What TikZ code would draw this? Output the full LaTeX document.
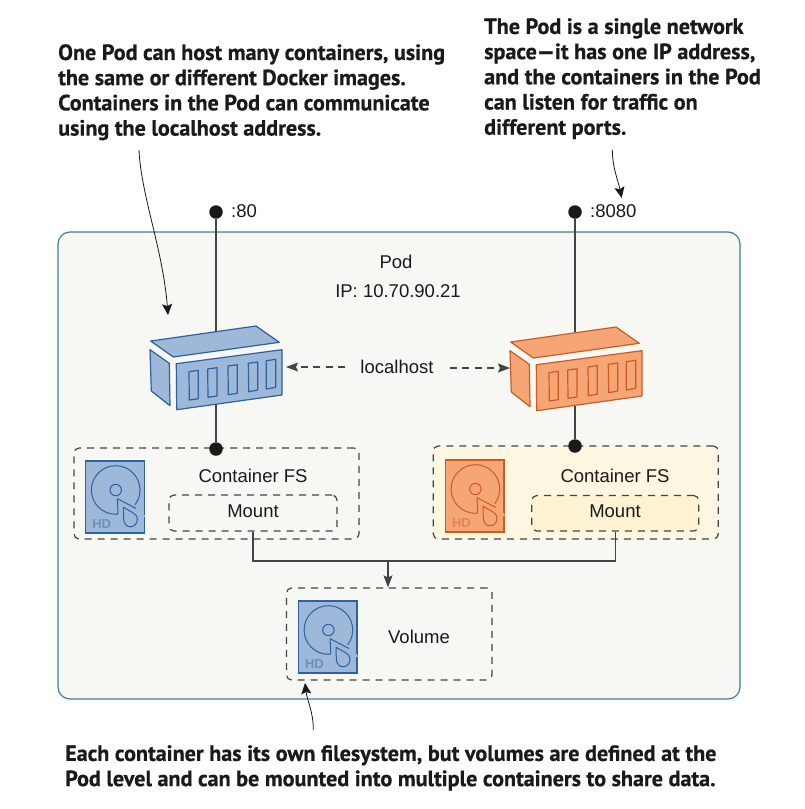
\documentclass[tikz,border=0pt]{standalone}
\usepackage{fontspec}
\setmainfont{Liberation Sans}
\newfontfamily\calloutfont[FakeStretch=1.0,FakeBold=0.6]{PT Sans Bold}
\usetikzlibrary{arrows.meta}
\definecolor{bluefill}{HTML}{9DB8D9}
\definecolor{bluedraw}{HTML}{2F609F}
\definecolor{bluehd}{HTML}{6C90BE}
\definecolor{orangefill}{HTML}{F6A574}
\definecolor{orangedraw}{HTML}{CF5B22}
\definecolor{orangehd}{HTML}{E28450}
\definecolor{podfill}{HTML}{F7F7F3}
\definecolor{podedge}{HTML}{3F7E9F}
\definecolor{fsyellow}{HTML}{FDF6E0}
\definecolor{mountyellow}{HTML}{FDF3D3}
\definecolor{linegrey}{HTML}{444444}
\definecolor{inkblack}{HTML}{1A1A1A}
\tikzset{
  x=1pt,y=-1pt,
  callout/.style={anchor=north west,inner sep=0pt,align=left,text=inkblack,font=\calloutfont\fontsize{22.1}{25.2}\selectfont},
  label/.style={inner sep=0pt,text=inkblack,font=\fontsize{18.5}{22}\selectfont},
  dashbox/.style={draw=linegrey,dash pattern=on 7pt off 6pt,line width=1.2pt,rounded corners=5pt,inner sep=0pt},
  port/.style={circle,fill=inkblack,inner sep=0pt,minimum size=13.5pt},
  wire/.style={draw=linegrey,line width=1.5pt},
  pointer/.style={draw=inkblack,line width=0.8pt,-{Stealth[length=11pt,width=10pt,inset=2pt]}},
  link/.style={draw=linegrey,line width=1.1pt,dash pattern=on 7pt off 5.5pt,-{Stealth[length=12pt,width=9pt,inset=2pt]}},
  pics/container/.style={code={
    \path[fill=#1fill,draw=#1draw,line width=1.2pt,line join=round]
      (0.7,15)--(106,0)--(129.3,16.3)--(23.3,31)--cycle
      (0,23.7)--(19.3,37.3)--(20,79.7)--(1.3,65)--cycle
      (26.3,37.7)--(132,23.7)--(132,69)--(26.7,83.7)--cycle;
    \path[draw=#1draw,line width=1.2pt,line join=round]
      (39,45.7)--(48.3,44.3)--(48.3,72.7)--(39.3,74)--cycle
      (57.7,43)--(67,41.7)--(67,70)--(58,71.3)--cycle
      (78,40)--(87.3,38.7)--(87.3,67.3)--(78.3,68.7)--cycle
      (98.3,37.3)--(107.7,36)--(107.7,64)--(98.7,65.7)--cycle
      (116.3,34.7)--(125.7,33.3)--(125.7,61.3)--(116.3,63)--cycle;
  }},
  pics/harddisk/.style={code={
    \path[fill=#1fill,draw=#1draw,line width=1.2pt] (0,0) rectangle (58.6,72);
    \path[draw=#1draw,line width=1pt] (30,29) circle[radius=24.3];
    \path[fill=#1fill] (31.7,37.7)--(32.3,56)--(60,56)--(53,45)--cycle;
    \path[draw=#1draw,line width=1pt,line join=round] (32.3,52.9)--(31.7,37.7)--(50.5,47.5);
    \path[draw=#1draw,line width=1pt] (30,29) circle[radius=5.7];
    \path[draw=#1draw,line width=1pt,line join=round]
      (37.7,46.3)--(37.9,58) .. controls (38,62.5) and (41,65.8) .. (44.5,65.8)
      .. controls (48.5,65.8) and (51.6,62.5) .. (51.6,58.5)
      .. controls (51.6,54.5) and (49,52.5) .. (46,51)--cycle;
    \node[inner sep=0pt,text=#1hd,font=\bfseries\fontsize{13}{13}\selectfont] at (16,63) {HD};
  }}
}
\begin{document}
\begin{tikzpicture}
\useasboundingbox[fill=white] (0,0) rectangle (804,809);
% pod
\node[draw=podedge,fill=podfill,line width=1.2pt,rounded corners=12pt,minimum width=682pt,minimum height=467pt,inner sep=0pt] (pod) at (399,465.5) {};
\node[label] (podname) at (396,262) {Pod};
\node[label] (podip) at (398,291) {IP: 10.70.90.21};
% filesystem boxes
\node[dashbox,minimum width=285pt,minimum height=91pt] (fsL) at (216.5,493.5) {};
\node[dashbox,fill=fsyellow,minimum width=285pt,minimum height=93pt] (fsR) at (575.8,492.5) {};
\node[dashbox,minimum width=168pt,minimum height=36pt] (mountL) at (253,513) {};
\node[dashbox,fill=mountyellow,minimum width=167pt,minimum height=35.5pt] (mountR) at (615.3,513.3) {};
\node[dashbox,minimum width=205.5pt,minimum height=92pt] (vol) at (389.3,634) {};
\node[label] (fstextL) at (253,476) {Container FS};
\node[label] (fstextR) at (615,476) {Container FS};
\node[label] (mounttextL) at (253,511) {Mount};
\node[label] (mounttextR) at (615,511) {Mount};
\node[label] (voltext) at (419,637) {Volume};
% ports and wires
\node[port] (portL) at (216,212) {};
\node[port] (portR) at (575,212) {};
\node[port] (fsdotL) at (216,449) {};
\node[port] (fsdotR) at (575,446) {};
\node[label,anchor=west] (portLtext) at (231,211) {:80};
\node[label,anchor=west] (portRtext) at (590,211) {:8080};
\coordinate (conLtop) at (216,333);
\coordinate (conLbot) at (216,403);
\coordinate (conRtop) at (575,334);
\coordinate (conRbot) at (575,404);
\draw[wire] (portL) -- (conLtop);
\draw[wire] (conLbot) -- (fsdotL);
\draw[wire] (portR) -- (conRtop);
\draw[wire] (conRbot) -- (fsdotR);
% containers
\pic at (150,326) {container=blue};
\pic at (510,327) {container=orange};
% disks
\pic at (85.7,461) {harddisk=blue};
\pic at (445.4,460) {harddisk=orange};
\pic at (298.4,601) {harddisk=blue};
% mounts to volume
\coordinate (junction) at (388,561);
\draw[draw=linegrey,line width=1.2pt] (mountL.south) |- (junction) -| (mountR.south);
\draw[draw=linegrey,line width=1.2pt,-{Stealth[length=12pt,width=9pt,inset=2pt]}] (junction) -- (vol.north -| junction);
% localhost
\node[label] (localhost) at (397,367) {localhost};
\coordinate (conLside) at (286,367);
\coordinate (conRside) at (510,368);
\draw[link] (localhost.west) ++(-15,0) coordinate (lhL) (lhL) -- (conLside);
\draw[link] (localhost.east) ++(16,1) coordinate (lhR) (lhR) -- (conRside);
% callouts
\node[callout] (noteL) at (58,44) {One Pod can host many containers, using\\the same or different Docker images.\\Containers in the Pod can communicate\\using the localhost address.};
\node[callout] (noteR) at (484,18) {The Pod is a single network\\space—it has one IP address,\\and the containers in the Pod\\can listen for traffic on\\different ports.};
\node[callout] (noteB) at (65,745) {Each container has its own filesystem, but volumes are defined at the\\Pod level and can be mounted into multiple containers to share data.};
\coordinate (ptrLstart) at (139,150);
\coordinate (ptrLend) at (168,315);
\coordinate (ptrRstart) at (612.3,150);
\coordinate (ptrRend) at (621.7,198);
\coordinate (ptrBstart) at (313.3,730);
\coordinate (ptrBend) at (305,683);
\draw[pointer] (ptrLstart) .. controls (141,195) and (163,250) .. (ptrLend);
\draw[pointer] (ptrRstart) .. controls (612.5,168) and (618,180) .. (ptrRend);
\draw[pointer] (ptrBstart) .. controls (313.5,712) and (307,700) .. (ptrBend);
\end{tikzpicture}
\end{document}
